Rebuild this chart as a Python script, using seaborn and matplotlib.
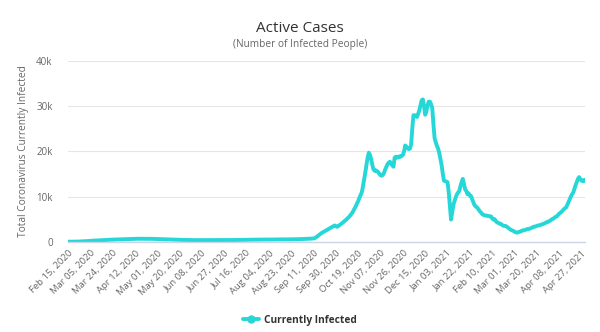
import matplotlib
matplotlib.use("Agg")
import matplotlib.pyplot as plt
import seaborn as sns
import pandas as pd
import numpy as np
from matplotlib.lines import Line2D

start_date = "2020-02-15"
tick_step = 19
infected = [
    0, 0, 0, 0, 10, 10, 10, 20, 20, 30,
    40, 50, 60, 80, 100, 110, 130, 150, 170, 190,
    200, 220, 240, 250, 270, 280, 290, 300, 320, 330,
    340, 360, 370, 390, 400, 420, 430, 450, 460, 480,
    490, 500, 510, 530, 540, 550, 560, 570, 580, 590,
    600, 600, 610, 620, 620, 630, 630, 640, 640, 650,
    650, 650, 660, 660, 660, 660, 650, 650, 650, 640,
    640, 630, 630, 620, 620, 610, 600, 590, 580, 570,
    560, 550, 540, 530, 520, 510, 500, 490, 480, 470,
    460, 450, 440, 430, 420, 410, 400, 400, 390, 390,
    380, 380, 370, 370, 360, 360, 360, 350, 350, 350,
    350, 340, 340, 340, 340, 340, 330, 330, 330, 330,
    330, 330, 330, 330, 330, 330, 330, 340, 340, 340,
    340, 340, 340, 350, 350, 350, 350, 360, 360, 360,
    370, 370, 370, 380, 380, 390, 390, 390, 400, 400,
    410, 410, 420, 420, 430, 430, 440, 440, 450, 450,
    450, 460, 460, 460, 470, 470, 470, 470, 480, 480,
    480, 480, 480, 490, 490, 490, 490, 500, 500, 500,
    500, 500, 510, 510, 510, 510, 520, 520, 520, 530,
    530, 530, 540, 540, 550, 550, 560, 560, 570, 570,
    580, 590, 600, 610, 620, 640, 660, 680, 700, 730,
    800, 950, 1150, 1350, 1550, 1750, 1950, 2100, 2250, 2400,
    2550, 2700, 2850, 3000, 3150, 3300, 3450, 3600, 3400, 3300,
    3450, 3650, 3850, 4050, 4250, 4500, 4700, 4950, 5200, 5450,
    5750, 6100, 6400, 6900, 7400, 7900, 8500, 9000, 9700, 10300,
    10900, 12200, 13700, 15300, 16900, 18600, 19700, 19200, 18300, 17000,
    16000, 15700, 15800, 15600, 15400, 15000, 14700, 14600, 14800, 15300,
    16000, 16600, 17200, 17500, 17700, 17300, 16900, 16600, 18600, 18800,
    18600, 18700, 18900, 18800, 19000, 19200, 20000, 21300, 21000, 20700,
    20500, 20600, 21500, 25000, 28000, 28000, 27900, 27600, 28300, 29100,
    30200, 31300, 31500, 30000, 28100, 28800, 30200, 31000, 31000, 30400,
    29600, 26000, 22900, 22000, 21200, 20600, 19600, 18200, 16900, 15000,
    13500, 13400, 13300, 13200, 11000, 8000, 4900, 6500, 8200, 9000,
    9800, 10500, 10900, 11200, 12300, 13200, 13900, 12700, 11600, 11200,
    10500, 10700, 10200, 10100, 9400, 8700, 8100, 7800, 7600, 7300,
    6900, 6600, 6300, 6000, 5900, 5800, 5800, 5700, 5700, 5600,
    5600, 5200, 4900, 5000, 4600, 4300, 4200, 4000, 4000, 3800,
    3600, 3500, 3500, 3400, 3200, 3000, 2800, 2600, 2500, 2400,
    2200, 2100, 2000, 2100, 2200, 2200, 2400, 2500, 2500, 2600,
    2700, 2800, 2800, 2900, 3000, 3100, 3300, 3300, 3400, 3500,
    3600, 3600, 3700, 3800, 3900, 4000, 4100, 4300, 4300, 4500,
    4600, 4800, 5000, 5100, 5300, 5500, 5600, 5900, 6200, 6400,
    6600, 6900, 7200, 7400, 7600, 8200, 8800, 9400, 10000, 10500,
    10900, 11700, 12500, 13200, 13900, 14300, 13800, 13500, 13600, 13400,
    13700,
]
y_ticks = [0, 10000, 20000, 30000, 40000]
y_tick_labels = ["0", "10k", "20k", "30k", "40k"]

dates = pd.date_range(start_date, periods=len(infected), freq="D")
df = pd.DataFrame({"idx": np.arange(len(infected)), "value": infected})
tick_idx = list(range(0, len(infected), tick_step))
tick_labels = [dates[i].strftime("%b %d, %Y") for i in tick_idx]

sns.set_theme(style="white")
plt.rcParams["font.family"] = ["Open Sans", "DejaVu Sans"]

color = "#26d7d7"
fig = plt.figure(figsize=(6, 3.32), dpi=100)
ax = fig.add_axes([68 / 600, 1 - 241.7 / 332, (585 - 68) / 600, (241.7 - 61) / 332])
sns.lineplot(data=df, x="idx", y="value", ax=ax, color=color, linewidth=2.8, legend=False)

ax.set_xlim(0, len(infected) - 1)
ax.set_ylim(0, 40000)
ax.set_yticks(y_ticks)
ax.set_yticklabels(y_tick_labels, fontsize=7, color="#666666")
ax.set_xticks(tick_idx)
ax.set_xticklabels(tick_labels, rotation=45, ha="right", rotation_mode="anchor",
                   fontsize=6.8, color="#666666")
ax.tick_params(axis="x", length=0, pad=5)
ax.tick_params(axis="y", length=0, pad=11)
ax.grid(axis="y", color="#e6e6e6", linewidth=0.8)
ax.set_axisbelow(True)
for s in ["top", "right", "left"]:
    ax.spines[s].set_visible(False)
ax.spines["bottom"].set_color("#ccd6eb")
ax.spines["bottom"].set_linewidth(1)
ax.set_xlabel("")
ax.set_ylabel("Total Coronavirus Currently Infected", fontsize=7.3, color="#666666", labelpad=5)

fig.text(0.5, 1 - 28 / 332, "Active Cases", ha="center", va="center", fontsize=11, color="#333333")
fig.text(0.5, 1 - 45 / 332, "(Number of Infected People)", ha="center", va="center", fontsize=7.3, color="#666666")

handle = Line2D([0], [0], color=color, linewidth=2.8, marker="o", markersize=5)
fig.legend([handle], ["Currently Infected"], loc="center", bbox_to_anchor=(0.5, 1 - 320 / 332),
           frameon=False, prop={"size": 7.3, "weight": "bold"}, handlelength=1.6, handletextpad=0.5,
           labelcolor="#333333")

fig.savefig("out.png", dpi=100)
